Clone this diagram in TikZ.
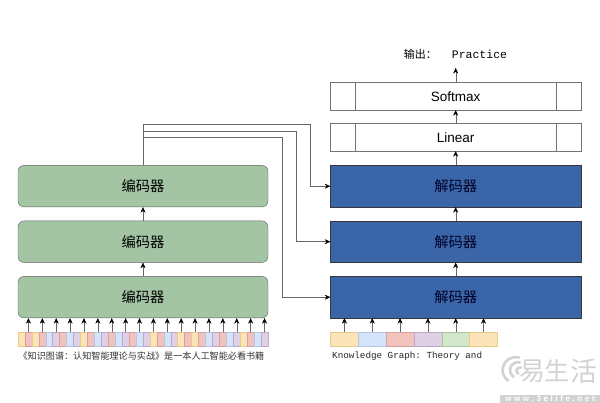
\documentclass[tikz,border=0pt]{standalone}
\usepackage{fontspec}
\setmainfont{Liberation Sans}
\setmonofont{Liberation Mono}
\newfontfamily\cjk{Noto Sans CJK SC}
\usetikzlibrary{arrows.meta}
\definecolor{cO}{HTML}{FCE3B8}
\definecolor{cR}{HTML}{F2C3BE}
\definecolor{cB}{HTML}{D5E3F8}
\definecolor{cP}{HTML}{DFD0E6}
\definecolor{cG}{HTML}{D4E6CC}
\definecolor{bO}{HTML}{E8CB85}
\definecolor{bR}{HTML}{D9A19C}
\definecolor{bB}{HTML}{B3C6E3}
\definecolor{bP}{HTML}{BBA9C9}
\definecolor{bG}{HTML}{A9C69B}
\definecolor{encfill}{HTML}{A3C5A4}
\definecolor{decfill}{HTML}{3A66A9}
\definecolor{wm}{HTML}{D2D2D2}
\tikzset{
  x=1pt,y=-1pt,
  line width=1pt,
  wire/.style={draw=black!60,-{Stealth[length=5.5pt,width=5pt,color=black]}},
  plainwire/.style={draw=black!60},
  encbox/.style={draw=black!62,fill=encfill,rounded corners=6pt,minimum width=250pt,minimum height=41.5pt,inner sep=0pt,font=\cjk\fontsize{14.3}{16}\selectfont},
  decbox/.style={draw=black!78,fill=decfill,minimum width=250.5pt,minimum height=41.5pt,inner sep=0pt,text=black!85!blue,font=\cjk\fontsize{14.3}{16}\selectfont},
  outbox/.style={draw=black!55,fill=white,minimum width=250.5pt,minimum height=27.5pt,inner sep=0pt,font=\fontsize{13.5}{15}\selectfont},
  cell/.style={minimum height=14pt,inner sep=0pt,outer sep=0pt,line width=0.5pt},
  cellO/.style={cell,fill=cO,draw=bO},
  cellR/.style={cell,fill=cR,draw=bR},
  cellB/.style={cell,fill=cB,draw=bB},
  cellP/.style={cell,fill=cP,draw=bP},
  cellG/.style={cell,fill=cG,draw=bG},
}
\begin{document}
\begin{tikzpicture}
\useasboundingbox (0,0) rectangle (600,403);

% encoders
\node[encbox] (e3) at (143,186.2) {编码器};
\node[encbox] (e2) at (143,241.7) {编码器};
\node[encbox] (e1) at (143,297.2) {编码器};
% decoders
\node[decbox] (d3) at (455.7,186.2) {解码器};
\node[decbox] (d2) at (455.7,241.7) {解码器};
\node[decbox] (d1) at (455.7,297.2) {解码器};
% linear, softmax
\node[outbox] (lin) at (455.7,137.2) {Linear};
\node[outbox] (sm) at (455.7,96.2) {Softmax};
\foreach \n in {lin,sm}{
  \draw[draw=black!55] ([xshift=25pt]\n.north west) -- ([xshift=25pt]\n.south west);
  \draw[draw=black!55] ([xshift=-25pt]\n.north east) -- ([xshift=-25pt]\n.south east);
}
\node[inner sep=0pt] (out) at (455.5,54) {{\cjk\fontsize{11}{13}\selectfont 输出：}\hspace{15pt}{\ttfamily\fontsize{11.5}{13}\selectfont Practice}};

% input cells, left
\foreach \c [count=\i] in {O,R,O,R,B,P,R,B,P,O,R,B,P,R,B,P,R,B,P,O,R,B,P,O,R,O,R,B,P,R,B,P,O,R,B,P}{
  \pgfmathsetmacro{\xc}{18+(\i-0.5)*6.944}
  \node[cell\c,minimum width=6.944pt] (l\i) at (\xc,339) {};
}
\foreach \i in {2,4,...,36}{
  \draw[wire] (l\i.north) -- (l\i.north |- e1.south);
}
% input cells, right
\foreach \c [count=\i] in {O,B,R,P,G,O}{
  \pgfmathsetmacro{\xc}{330.5+(\i-0.5)*27.83}
  \node[cell\c,minimum width=27.83pt] (r\i) at (\xc,339) {};
  \draw[wire] (r\i.north) -- (r\i.north |- d1.south);
}
\node[inner sep=0pt,font=\cjk\fontsize{9.1}{10}\selectfont,text=black!80] (ltext) at (141.5,356) {《知识图谱：认知智能理论与实战》是一本人工智能必看书籍};
\node[inner sep=0pt,anchor=west,font=\ttfamily\fontsize{9.25}{11}\selectfont,text=black!85] (rtext) at (332,356.5) {Knowledge Graph: Theory and};

% vertical arrows
\draw[wire] (e1) -- (e2);
\draw[wire] (e2) -- (e3);
\draw[wire] (d1) -- (d2);
\draw[wire] (d2) -- (d3);
\draw[wire] (d3) -- (lin);
\draw[wire] (lin) -- (sm);
\draw[wire] (sm.north) -- (sm.north |- 0,68);

% skip connections
\coordinate (t1) at (143,124);
\coordinate (t2) at (143,131);
\coordinate (t3) at (143,137.7);
\draw[plainwire] (e3.north) -- (t1);
\draw[wire] (t1) -| (310,186.2) -- (d3.west);
\draw[wire] (t2) -| (296,241.7) -- (d2.west);
\draw[wire] (t3) -| (282.3,297.2) -- (d1.west);

% watermark
\begin{scope}[draw=wm,line width=2.6pt,line cap=round]
  \draw (519,357.5) arc[start angle=-75,end angle=-235,radius=13];
  \draw (520,362.5) arc[start angle=-75,end angle=-235,radius=8];
  \draw (521,367.5) arc[start angle=-75,end angle=-235,radius=3.5];
\end{scope}
\node[inner sep=0pt,text=wm,font=\cjk\fontsize{26}{28}\selectfont] (wm1) at (532.5,371) {易};
\node[inner sep=0pt,text=wm,font=\cjk\fontsize{25}{28}\selectfont] (wm2) at (557,371) {生};
\node[inner sep=0pt,text=wm,font=\cjk\fontsize{27}{28}\selectfont] (wm3) at (584,371) {活};
\fill[wm] (500,395) rectangle (600,403);
\node[inner sep=0pt,text=white,font=\bfseries\fontsize{8}{9}\selectfont] (wmurl) at (550,399) {w\hspace{2.6pt}w\hspace{2.6pt}w\hspace{2.6pt}.\hspace{2.6pt}3\hspace{2.6pt}e\hspace{2.6pt}l\hspace{2.6pt}i\hspace{2.6pt}f\hspace{2.6pt}e\hspace{2.6pt}.\hspace{2.6pt}n\hspace{2.6pt}e\hspace{2.6pt}t};
\end{tikzpicture}
\end{document}
